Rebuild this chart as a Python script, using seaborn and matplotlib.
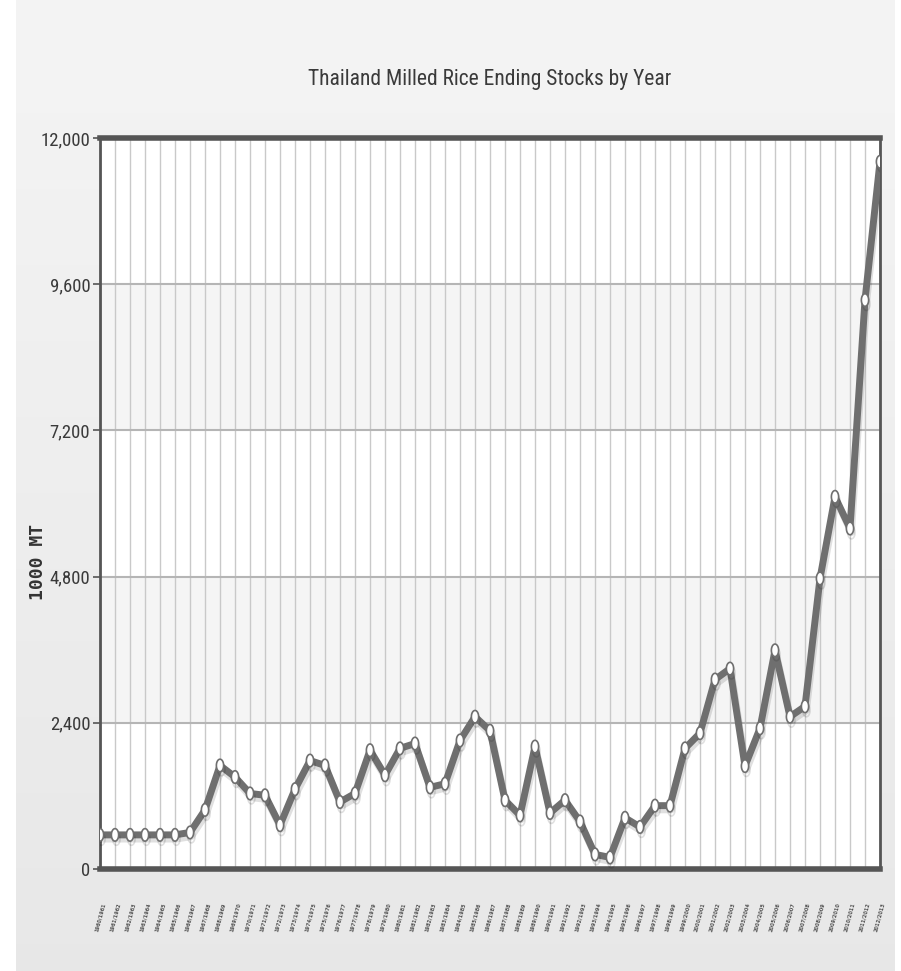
import numpy as np
import pandas as pd
import matplotlib
matplotlib.use("Agg")
import matplotlib.pyplot as plt
import matplotlib.patheffects as pe
from matplotlib.path import Path
from matplotlib.ticker import FuncFormatter
from matplotlib import font_manager
import seaborn as sns

# Marketing years and milled rice ending stocks (1000 MT)
years = [
    "1960/1961", "1961/1962", "1962/1963", "1963/1964", "1964/1965", "1965/1966",
    "1966/1967", "1967/1968", "1968/1969", "1969/1970", "1970/1971", "1971/1972",
    "1972/1973", "1973/1974", "1974/1975", "1975/1976", "1976/1977", "1977/1978",
    "1978/1979", "1979/1980", "1980/1981", "1981/1982", "1982/1983", "1983/1984",
    "1984/1985", "1985/1986", "1986/1987", "1987/1988", "1988/1989", "1989/1990",
    "1990/1991", "1991/1992", "1992/1993", "1993/1994", "1994/1995", "1995/1996",
    "1996/1997", "1997/1998", "1998/1999", "1999/2000", "2000/2001", "2001/2002",
    "2002/2003", "2003/2004", "2004/2005", "2005/2006", "2006/2007", "2007/2008",
    "2008/2009", "2009/2010", "2010/2011", "2011/2012", "2012/2013",
]
stocks = [
    560, 560, 560, 560, 560, 560, 600, 970, 1700, 1510,
    1240, 1210, 720, 1310, 1780, 1700, 1100, 1240, 1950, 1540,
    1980, 2060, 1340, 1400, 2110, 2500, 2270, 1130, 880, 2010,
    920, 1130, 780, 240, 190, 840, 690, 1040, 1040, 1980,
    2230, 3110, 3290, 1690, 2310, 3590, 2500, 2670, 4770, 6110,
    5590, 9340, 11610,
]
y_ticks = [0, 2400, 4800, 7200, 9600, 12000]

df = pd.DataFrame({"idx": range(len(years)), "year": years, "stocks": stocks})

sns.set_theme(style="white")
plt.rcParams["font.family"] = ["DejaVu Sans"]

# narrow face for the title and value axis, if one is present
names = {f.name for f in font_manager.fontManager.ttflist}
narrow = None
for cand in ["Liberation Sans Narrow", "Roboto Condensed", "Open Sans Condensed",
             "DejaVu Sans Condensed", "Noto Sans Condensed"]:
    if cand in names:
        narrow = cand
        break
if narrow is None:
    narrow_kw = dict(family="DejaVu Sans", stretch="condensed")
else:
    narrow_kw = dict(family=narrow)

W, H = 901, 971
fig = plt.figure(figsize=(W / 100, H / 100), dpi=100, facecolor="white")

# soft grey backdrop panel with a gentle vertical gradient
bg = fig.add_axes([16 / W, 0, 879 / W, 1])
grad = np.linspace(0.955, 0.905, 256).reshape(-1, 1)
bg.imshow(grad, cmap="gray", vmin=0, vmax=1, aspect="auto", extent=[0, 1, 0, 1])
bg.set_axis_off()

ax = fig.add_axes([100 / W, 1 - 869 / H, 780 / W, 731 / H])
ax.set_zorder(2)
ax.set_facecolor("white")

# alternating horizontal bands
for lo, hi in zip(y_ticks[:-1], y_ticks[1:]):
    if (lo // 2400) % 2 == 1:
        ax.axhspan(lo, hi, color="#f5f5f5", zorder=0, lw=0)

# ellipse-shaped point marker
th = np.linspace(0, 2 * np.pi, 41)
ellipse = Path(np.column_stack([0.58 * np.cos(th), np.sin(th)]), closed=True)

sns.lineplot(
    data=df, x="idx", y="stocks", ax=ax, color="#6f6f6f", lw=5,
    marker=ellipse, markersize=9, markerfacecolor="white",
    markeredgecolor="#6f6f6f", markeredgewidth=1.2, zorder=5,
    path_effects=[pe.SimpleLineShadow(offset=(1, -3), shadow_color="black", alpha=0.12),
                  pe.Normal()],
)

ax.set_xlim(0, len(years) - 1)
ax.set_ylim(0, 12000)
ax.set_yticks(y_ticks)
ax.yaxis.set_major_formatter(FuncFormatter(lambda v, p: f"{int(v):,}"))
ax.set_xticks(df["idx"])
ax.set_xticklabels(years, rotation=75, fontsize=3.6, color="#555555", ha="center",
                   fontweight="bold")

ax.grid(axis="x", color="#c9c9c9", lw=1, zorder=1)
ax.grid(axis="y", color="#b5b5b5", lw=1.5, zorder=1)
ax.set_axisbelow(True)

ax.tick_params(axis="y", length=5, width=1.2, color="#555555", labelsize=13.5,
               labelcolor="#3a3a3a", pad=2, left=True)
for lab in ax.get_yticklabels():
    lab.set_fontfamily(narrow_kw["family"])
    if "stretch" in narrow_kw:
        lab.set_fontstretch(narrow_kw["stretch"])
ax.tick_params(axis="x", length=0, pad=24)

for side in ("top", "bottom"):
    ax.spines[side].set_color("#555555")
    ax.spines[side].set_linewidth(4)
for side in ("left", "right"):
    ax.spines[side].set_color("#555555")
    ax.spines[side].set_linewidth(2)
    ax.spines[side].set_visible(True)

ax.set_xlabel("")
ax.set_ylabel("")

fig.text(38 / W, 1 - 562 / H, "1000 MT", rotation=90, ha="center", va="center",
         fontsize=13, fontweight="bold", color="#333333",
         family=["DejaVu Sans Mono", "DejaVu Sans"])

fig.text(490 / W, 1 - 80 / H, "Thailand Milled Rice Ending Stocks by Year",
         ha="center", va="center", fontsize=15.5, color="#3a3a3a", **narrow_kw)

fig.savefig("out.png", dpi=100, facecolor="white")
